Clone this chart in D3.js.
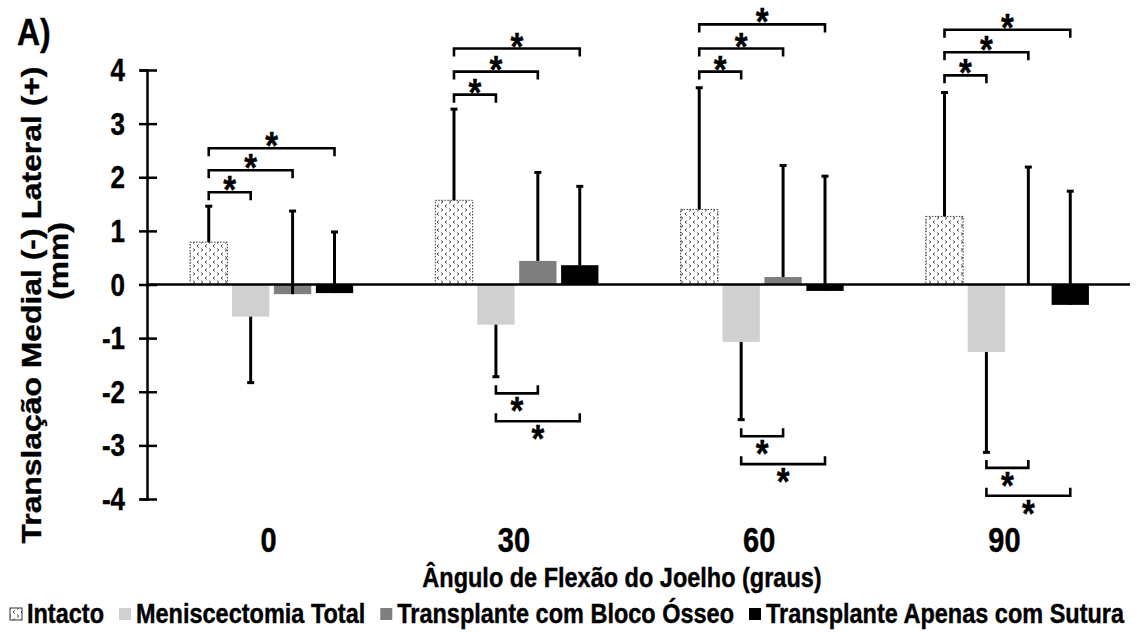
<!DOCTYPE html>
<html>
<head>
<meta charset="utf-8">
<script src="https://cdn.jsdelivr.net/npm/d3@7"></script>
<style>
  body { margin: 0; background: #fff; }
  svg text { font-family: "Liberation Sans", Arial, sans-serif; font-weight: bold; fill: #000; stroke: #000; stroke-width: 0.35; }
</style>
</head>
<body>
<div id="chart"></div>
<script>
const groups = ["0", "30", "60", "90"];
const series = ["Intacto", "Meniscectomia Total", "Transplante com Bloco Ósseo", "Transplante Apenas com Sutura"];

// mean translation (mm)
const intacto = [0.79, 1.57, 1.40, 1.27];
const meniscectomia = [-0.60, -0.75, -1.07, -1.26];
const blocoOsseo = [-0.18, 0.44, 0.14, 0.00];
const apenasSutura = [-0.16, 0.36, -0.12, -0.38];

// standard deviations, drawn one side only
const sdIntacto = [0.67, 1.70, 2.27, 2.31];
const sdMenisc = [1.23, 0.97, 1.45, 1.87];
const sdBloco = [1.55, 1.65, 2.08, 2.19];
const sdSutura = [1.14, 1.47, 2.14, 2.12];
const errDirection = [1, -1, 1, 1];

const yTicks = [-4, -3, -2, -1, 0, 1, 2, 3, 4];

// significance brackets: group, from series, to series, level (mm)
const brackets = [
  ["0", 0, 1, 1.72], ["0", 0, 2, 2.13], ["0", 0, 3, 2.54],
  ["30", 0, 1, 3.54], ["30", 0, 2, 3.97], ["30", 0, 3, 4.40],
  ["30", 1, 2, -2.03], ["30", 1, 3, -2.55],
  ["60", 0, 1, 3.97], ["60", 0, 2, 4.40], ["60", 0, 3, 4.85],
  ["60", 1, 2, -2.83], ["60", 1, 3, -3.35],
  ["90", 0, 1, 3.90], ["90", 0, 2, 4.33], ["90", 0, 3, 4.75],
  ["90", 1, 2, -3.42], ["90", 1, 3, -3.94]
];

const means = [intacto, meniscectomia, blocoOsseo, apenasSutura];
const sds = [sdIntacto, sdMenisc, sdBloco, sdSutura];
const fills = ["url(#dots)", "#d0d0d0", "#7f7f7f", "#000000"];

const width = 1141, height = 632;
const SY = 1.18; // text in the original is a bit taller than wide
const svg = d3.select("#chart").append("svg")
  .attr("width", width).attr("height", height);

function stext(g, x, yy, str, size, anchor) {
  return g.append("text")
    .attr("transform", `translate(${x},${yy}) scale(1,${SY})`)
    .attr("text-anchor", anchor || "start")
    .attr("font-size", size)
    .text(str);
}

// pattern for intacto
const defs = svg.append("defs");
const pat = defs.append("pattern")
  .attr("id", "dots")
  .attr("patternUnits", "userSpaceOnUse")
  .attr("width", 8).attr("height", 8);
pat.append("rect").attr("width", 8).attr("height", 8).attr("fill", "#fff");
pat.append("path").attr("d", "M1,0.5 L2.8,2 L1,3.5").attr("fill", "none").attr("stroke", "#444").attr("stroke-width", 1);
pat.append("path").attr("d", "M6.8,4.5 L5,6 L6.8,7.5").attr("fill", "none").attr("stroke", "#444").attr("stroke-width", 1);

const axisX = 147;
const x0 = d3.scaleBand().domain(groups).range([149, 1130]).padding(0);
const x1 = d3.scaleBand().domain(d3.range(series.length))
  .range([0, x0.bandwidth()]).paddingInner(0.11).paddingOuter(0.98);
const y = d3.scaleLinear().domain([-4, 4]).range([499, 70]);

const rows = [];
groups.forEach((g, gi) => {
  series.forEach((s, si) => {
    rows.push({ g, si, v: means[si][gi], sd: sds[si][gi] });
  });
});

// bars
svg.append("g").selectAll("rect")
  .data(rows).enter().append("rect")
  .attr("x", d => x0(d.g) + x1(d.si))
  .attr("y", d => y(Math.max(0, d.v)))
  .attr("width", x1.bandwidth())
  .attr("height", d => Math.abs(y(d.v) - y(0)))
  .attr("fill", d => fills[d.si])
  .attr("stroke", d => d.si === 0 ? "#333" : "none")
  .attr("stroke-dasharray", d => d.si === 0 ? "1.5,1.5" : null)
  .attr("stroke-width", 1);

// zero line
svg.append("line")
  .attr("x1", axisX).attr("x2", x0.range()[1])
  .attr("y1", y(0)).attr("y2", y(0))
  .attr("stroke", "#000").attr("stroke-width", 2.5);

// error bars
const eb = svg.append("g").selectAll("g").data(rows).enter().append("g");
const cx = d => x0(d.g) + x1(d.si) + x1.bandwidth() / 2;
const endV = d => d.v + errDirection[d.si] * d.sd;
eb.append("line")
  .attr("x1", cx).attr("x2", cx)
  .attr("y1", d => y(d.v)).attr("y2", d => y(endV(d)))
  .attr("stroke", "#000").attr("stroke-width", 3);
eb.append("line")
  .attr("x1", d => cx(d) - 3.5).attr("x2", d => cx(d) + 3.5)
  .attr("y1", d => y(endV(d))).attr("y2", d => y(endV(d)))
  .attr("stroke", "#000").attr("stroke-width", 3);

// y axis
const yAxis = d3.axisLeft(y).tickValues(yTicks).tickSize(7).tickFormat("");
const ya = svg.append("g").attr("transform", `translate(${axisX},0)`).call(yAxis);
ya.select(".domain").attr("stroke-width", 2.5);
ya.selectAll(".tick line").attr("x2", -8).attr("x1", 10).attr("stroke-width", 2.5);
ya.selectAll(".tick text").remove();
const yl = svg.append("g");
yTicks.forEach(t => stext(yl, 125, y(t) + 11, String(t), 26, "end"));

// group labels
const gl = svg.append("g");
groups.forEach(g => stext(gl, x0(g) + x0.bandwidth() / 2 - 3, 552, g, 29, "middle"));

// axis titles
stext(svg, 622, 587, "Ângulo de Flexão do Joelho (graus)", 23.5, "middle");

svg.append("text")
  .attr("transform", `translate(41,305) rotate(-90) scale(${SY},1)`)
  .attr("text-anchor", "middle").attr("font-size", 27)
  .text("Translação Medial (-) Lateral (+)");
svg.append("text")
  .attr("transform", `translate(68,261) rotate(-90) scale(${SY},1)`)
  .attr("text-anchor", "middle").attr("font-size", 27)
  .text("(mm)");

stext(svg, 17, 45, "A)", 32);

// brackets
const bg = svg.append("g");
brackets.forEach(([g, a, b, lvl]) => {
  const xa = x0(g) + x1(a) + x1.bandwidth() / 2;
  const xb = x0(g) + x1(b) + x1.bandwidth() / 2;
  const yy = y(lvl);
  const dir = lvl > 0 ? 1 : -1;
  bg.append("path")
    .attr("d", `M${xa},${yy + 8 * dir} L${xa},${yy} L${xb},${yy} L${xb},${yy + 8 * dir}`)
    .attr("fill", "none").attr("stroke", "#000").attr("stroke-width", 2.6);
  const sy = dir > 0 ? yy - 9 : yy + 11;
  stext(bg, (xa + xb) / 2, sy + 20, "*", 33, "middle");
});

// legend
const lg = svg.append("g").attr("transform", "translate(0,614)");
let lx = 10;
series.forEach((s, i) => {
  lg.append("rect")
    .attr("x", lx).attr("y", -6).attr("width", 12).attr("height", 12)
    .attr("fill", fills[i])
    .attr("stroke", i === 0 ? "#333" : "none").attr("stroke-width", 1);
  const t = stext(lg, lx + 17, 9, s, 23.5);
  lx += 17 + t.node().getComputedTextLength() + 15;
});
</script>
</body>
</html>
